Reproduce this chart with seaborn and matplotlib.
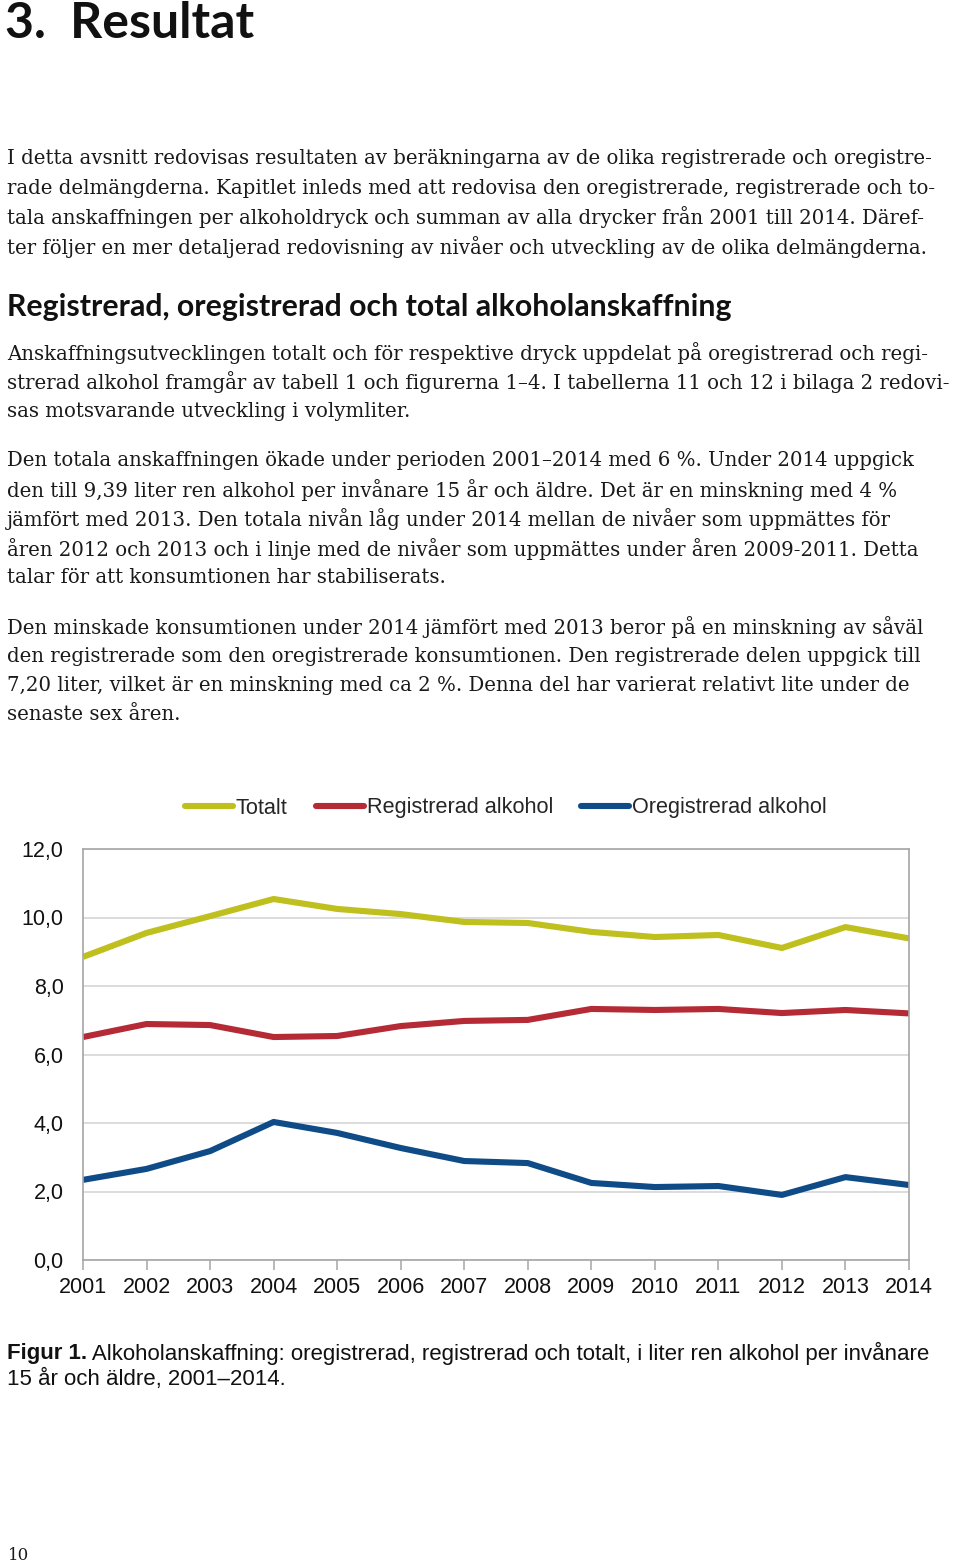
import matplotlib
matplotlib.use("Agg")
import matplotlib.pyplot as plt
import seaborn as sns
import pandas as pd
from matplotlib.ticker import FuncFormatter
from matplotlib.lines import Line2D

# ---------------- data ----------------
years = [2001, 2002, 2003, 2004, 2005, 2006, 2007, 2008, 2009, 2010, 2011, 2012, 2013, 2014]
totalt = [8.85, 9.55, 10.04, 10.54, 10.25, 10.10, 9.87, 9.84, 9.58, 9.43, 9.49, 9.11, 9.72, 9.39]
registrerad = [6.51, 6.89, 6.86, 6.51, 6.54, 6.83, 6.98, 7.01, 7.33, 7.30, 7.33, 7.21, 7.30, 7.20]
oregistrerad = [2.34, 2.66, 3.18, 4.03, 3.71, 3.27, 2.89, 2.83, 2.25, 2.13, 2.16, 1.90, 2.42, 2.19]
series_names = ["Totalt", "Registrerad alkohol", "Oregistrerad alkohol"]
series_colors = ["#BFBF1E", "#B42B35", "#0F4C87"]
y_ticks = [0, 2, 4, 6, 8, 10, 12]

heading = "3.  Resultat"
subheading = "Registrerad, oregistrerad och total alkoholanskaffning"
para1 = [
    "I detta avsnitt redovisas resultaten av beräkningarna av de olika registrerade och oregistre-",
    "rade delmängderna. Kapitlet inleds med att redovisa den oregistrerade, registrerade och to-",
    "tala anskaffningen per alkoholdryck och summan av alla drycker från 2001 till 2014. Däref-",
    "ter följer en mer detaljerad redovisning av nivåer och utveckling av de olika delmängderna.",
]
para2 = [
    "Anskaffningsutvecklingen totalt och för respektive dryck uppdelat på oregistrerad och regi-",
    "strerad alkohol framgår av tabell 1 och figurerna 1–4. I tabellerna 11 och 12 i bilaga 2 redovi-",
    "sas motsvarande utveckling i volymliter.",
]
para3 = [
    "Den totala anskaffningen ökade under perioden 2001–2014 med 6 %. Under 2014 uppgick",
    "den till 9,39 liter ren alkohol per invånare 15 år och äldre. Det är en minskning med 4 %",
    "jämfört med 2013. Den totala nivån låg under 2014 mellan de nivåer som uppmättes för",
    "åren 2012 och 2013 och i linje med de nivåer som uppmättes under åren 2009-2011. Detta",
    "talar för att konsumtionen har stabiliserats.",
]
para4 = [
    "Den minskade konsumtionen under 2014 jämfört med 2013 beror på en minskning av såväl",
    "den registrerade som den oregistrerade konsumtionen. Den registrerade delen uppgick till",
    "7,20 liter, vilket är en minskning med ca 2 %. Denna del har varierat relativt lite under de",
    "senaste sex åren.",
]
caption_bold = "Figur 1."
caption_rest_1 = " Alkoholanskaffning: oregistrerad, registrerad och totalt, i liter ren alkohol per invånare"
caption_line_2 = "15 år och äldre, 2001–2014."
page_number = "10"

df = pd.DataFrame({
    "År": years * 3,
    "Värde": totalt + registrerad + oregistrerad,
    "Serie": [series_names[0]] * len(years) + [series_names[1]] * len(years) + [series_names[2]] * len(years),
})

# ---------------- figure ----------------
sns.set_theme(style="white")
W, H = 960, 1563
fig = plt.figure(figsize=(W / 100, H / 100), dpi=100)
fig.patch.set_facecolor("white")

def fy(py):
    return 1 - py / H

def fx(px):
    return px / W

serif = "DejaVu Serif"
body_size = 14.2
fig.text(fx(5), fy(38), heading, fontsize=36, fontweight="bold", family="Lato", va="baseline", ha="left", color="#111111")

def draw_lines(lines, y0, step=29.2):
    for i, ln in enumerate(lines):
        fig.text(fx(7), fy(y0 + i * step), ln, fontsize=body_size, family=serif, va="center", ha="left", color="#1a1a1a")

draw_lines(para1, 159)
fig.text(fx(7), fy(307), subheading, fontsize=21.8, fontweight="bold", family="Lato", va="center", ha="left", color="#111111")
draw_lines(para2, 353)
draw_lines(para3, 461)
draw_lines(para4, 627)

# ---------------- chart ----------------
ax_left, ax_right, ax_top, ax_bottom = 83, 909, 849, 1260
ax = fig.add_axes([fx(ax_left), fy(ax_bottom), (ax_right - ax_left) / W, (ax_bottom - ax_top) / H])
palette = dict(zip(series_names, series_colors))
sns.lineplot(data=df, x="År", y="Värde", hue="Serie", palette=palette, linewidth=4.4,
             ax=ax, legend=False, solid_capstyle="butt")
ax.set_xlim(years[0], years[-1])
ax.set_ylim(y_ticks[0], y_ticks[-1])
ax.set_yticks(y_ticks)
ax.set_xticks(years)
ax.yaxis.set_major_formatter(FuncFormatter(lambda v, p: f"{v:.1f}".replace(".", ",")))
ax.set_xlabel("")
ax.set_ylabel("")
ax.grid(axis="y", color="#D9D9D9", linewidth=1.3)
ax.set_axisbelow(True)
for s in ax.spines.values():
    s.set_color("#A6A6A6")
    s.set_linewidth(1.2)
ax.tick_params(axis="y", length=0, pad=14, labelsize=15.5, labelcolor="#111111")
ax.tick_params(axis="x", length=7, width=1.1, color="#A6A6A6", direction="out", pad=5,
               labelsize=15.5, labelcolor="#111111", bottom=True)
for lab in ax.get_xticklabels() + ax.get_yticklabels():
    lab.set_family("Liberation Sans")

handles = [Line2D([0], [0], color=c, linewidth=4.4) for c in series_colors]
leg = fig.legend(handles, series_names, loc="center", bbox_to_anchor=(fx(506), fy(808)), ncol=3,
                 frameon=False, handlelength=2.2, handletextpad=0.15, columnspacing=1.3,
                 prop={"family": "Liberation Sans", "size": 15.6})

# ---------------- caption ----------------
cap_size = 16
t1 = fig.text(fx(7), fy(1353), caption_bold, fontsize=cap_size, fontweight="bold", family="Liberation Sans",
              va="center", ha="left", color="#111111")
fig.canvas.draw()
bb = t1.get_window_extent()
fig.text(bb.x1 / W, fy(1353), caption_rest_1, fontsize=cap_size, family="Liberation Sans", va="center", ha="left", color="#111111")
fig.text(fx(7), fy(1379), caption_line_2, fontsize=cap_size, family="Liberation Sans", va="center", ha="left", color="#111111")

fig.text(fx(8), fy(1555), page_number, fontsize=12, family=serif, va="center", ha="left", color="#1a1a1a")

fig.savefig("out.png", dpi=100, facecolor="white")
